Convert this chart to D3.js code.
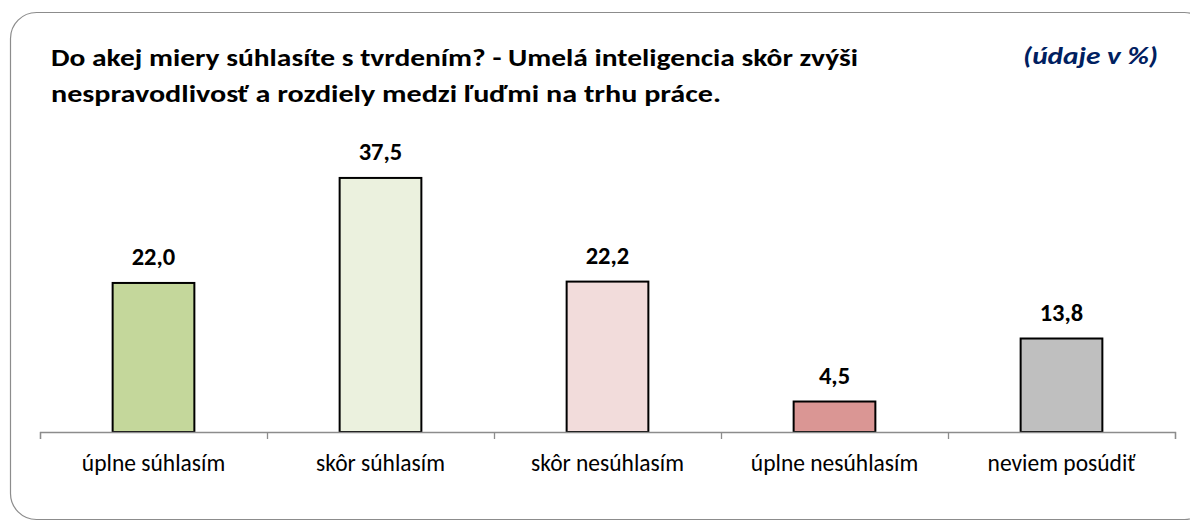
<!DOCTYPE html>
<html>
<head>
<meta charset="utf-8">
<script src="https://cdn.jsdelivr.net/npm/d3@7"></script>
<style>
  body { margin: 0; background: #fff; }
  svg { display: block; font-family: Carlito, Calibri, Lato, "Open Sans", sans-serif; }
</style>
</head>
<body>
<svg width="1190" height="521"></svg>
<script>
// data
var categories = ["úplne súhlasím", "skôr súhlasím", "skôr nesúhlasím", "úplne nesúhlasím", "neviem posúdiť"]
var values = [22.0, 37.5, 22.2, 4.5, 13.8]
var barColors = ["#c4d79b", "#ebf1de", "#f2dcdb", "#da9694", "#bfbfbf"]
var titleLines = ["Do akej miery súhlasíte s tvrdením? - Umelá inteligencia skôr zvýši",
                  "nespravodlivosť a rozdiely medzi ľuďmi na trhu práce."]
var unitNote = "(údaje v %)"

var svg = d3.select('svg')

// outer frame
svg.append("rect")
  .attr("x", 10.5).attr("y", 12.5)
  .attr("width", 1200).attr("height", 507)
  .attr("rx", 26).attr("ry", 26)
  .attr("fill", "none")
  .attr("stroke", "#8c8c8c")
  .attr("stroke-width", 1.2)

// title
var titleWidths = [807, 670]
svg.selectAll("text.title").data(titleLines).enter()
  .append("text")
  .attr("class", "title")
  .attr("x", 51)
  .attr("y", function(d, i){ return 66 + i * 36 })
  .attr("font-size", 24)
  .attr("font-weight", "bold")
  .attr("fill", "#000")
  .attr("textLength", function(d, i){ return titleWidths[i] })
  .attr("lengthAdjust", "spacingAndGlyphs")
  .text(function(d){ return d })

svg.append("text")
  .attr("x", 1158)
  .attr("y", 64)
  .attr("text-anchor", "end")
  .attr("font-size", 24)
  .attr("font-weight", "bold")
  .attr("font-style", "italic")
  .attr("fill", "#002060")
  .attr("textLength", 135)
  .attr("lengthAdjust", "spacingAndGlyphs")
  .text(unitNote)

// scales
var x = d3.scaleBand()
  .domain(categories)
  .range([40, 1175])
  .paddingInner(0.64)
  .paddingOuter(0.32)

var y = d3.scaleLinear()
  .domain([0, 40])
  .range([432, 161])

var edges = d3.scaleLinear().domain([0, categories.length]).range([40, 1175])

// bars
svg.selectAll("rect.bar").data(values).enter()
  .append("rect")
  .attr("class", "bar")
  .attr("x", function(d, i){ return x(categories[i]) })
  .attr("y", function(d){ return y(d) })
  .attr("width", x.bandwidth())
  .attr("height", function(d){ return y(0) - y(d) })
  .attr("fill", function(d, i){ return barColors[i] })
  .attr("stroke", "#000")
  .attr("stroke-width", 2)

// value labels
svg.selectAll("text.val").data(values).enter()
  .append("text")
  .attr("class", "val")
  .attr("x", function(d, i){ return x(categories[i]) + x.bandwidth() / 2 })
  .attr("y", function(d){ return y(d) - 18 })
  .attr("text-anchor", "middle")
  .attr("font-size", 24.5)
  .attr("font-weight", "bold")
  .text(function(d){ return d.toFixed(1).replace(".", ",") })

// axis with ticks at category boundaries
var tickAxis = svg.append("g")
  .attr("transform", "translate(0,432)")
  .call(d3.axisBottom(edges).tickValues(d3.range(categories.length + 1)).tickSize(7).tickFormat(""))
tickAxis.selectAll("path, line").attr("stroke", "#8c8c8c").attr("stroke-width", 1.3)

var labelAxis = svg.append("g")
  .attr("transform", "translate(0,432)")
  .call(d3.axisBottom(x).tickSize(0).tickPadding(22))
labelAxis.select(".domain").remove()
labelAxis.selectAll("text")
  .attr("font-size", 23.5)
  .attr("font-family", "Carlito, Calibri, Lato, 'Open Sans', sans-serif")
  .attr("fill", "#000")
</script>
</body>
</html>
